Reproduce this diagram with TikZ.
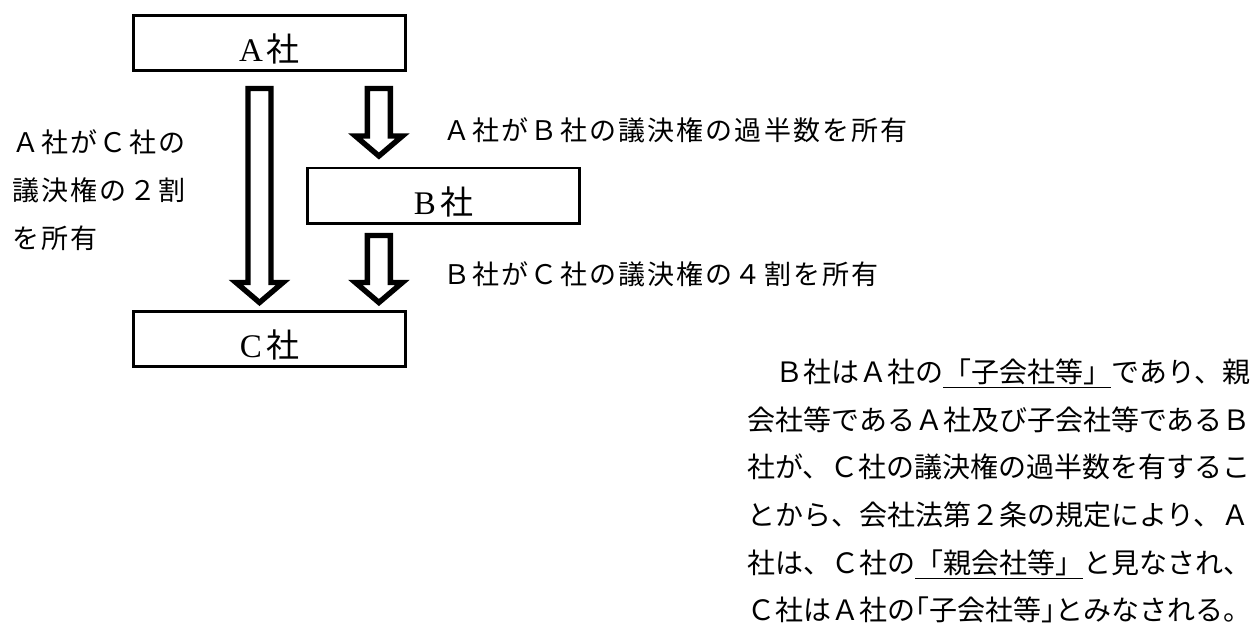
\documentclass[tikz,border=0pt]{standalone}
\usepackage{fontspec}
\usetikzlibrary{calc}
\newfontfamily\jp{Noto Sans CJK JP}
\newfontfamily\jpwide[LetterSpace=8]{Noto Sans CJK JP}
\newfontfamily\boxlatin{Liberation Serif}
\newcommand{\boxname}[1]{\raisebox{-3pt}[\height][\depth]{\fontsize{16.5}{18}\selectfont\boxlatin #1\hspace{2pt}\jp 社}}
\newcommand{\blockarrow}[2]{%
  \draw[hollowarrow] let \p1=(#1), \p2=(#2) in
    (\x1-5.75pt,\y1) -- (\x1-5.75pt,\y2+10pt) -- (\x1-11.75pt,\y2+10pt) -- (\x1,\y2)
    -- (\x1+11.75pt,\y2+10pt) -- (\x1+5.75pt,\y2+10pt) -- (\x1+5.75pt,\y1) -- cycle;}

\begin{document}
\begin{tikzpicture}[x=0.5pt, y=-0.5pt,
    company/.style={draw, line width=1.4pt, minimum width=136pt, minimum height=27.6pt, inner sep=0pt},
    hollowarrow/.style={draw, line width=2.7pt, line join=miter, fill=white},
    note/.style={inner sep=0pt, anchor=west, align=left, font=\jpwide\fontsize{13.5}{24}\selectfont},
    body/.style={inner sep=0pt, anchor=west, align=left, font=\jp\fontsize{14}{23.8}\selectfont}]

    \useasboundingbox (0,0) rectangle (1255,623);

    \node[company] (A) at (269.5,43) {\boxname{A}};
    \node[company] (B) at (443.5,195.5) {\boxname{B}};
    \node[company] (C) at (269.5,339) {\boxname{C}};

    \coordinate (ab top) at ($(A.south east)+(-28,16.5)$);
    \coordinate (ab tip) at ($(ab top |- B.north)+(0,-10.5)$);
    \coordinate (ac top) at ($(A.south)+(-10,16.5)$);
    \coordinate (ac tip) at ($(ac top |- C.north)+(0,-7.5)$);
    \coordinate (bc top) at ($(ab top |- B.south)+(0,11)$);
    \coordinate (bc tip) at ($(bc top |- C.north)+(0,-7.5)$);

    \blockarrow{ab top}{ab tip}
    \blockarrow{ac top}{ac tip}
    \blockarrow{bc top}{bc tip}

    \node[note] (ab note) at (443,130) {Ａ社がＢ社の議決権の過半数を所有};
    \node[note] (bc note) at (443,274) {Ｂ社がＣ社の議決権の４割を所有};
    \node[note] (ac note) at (12,190) {Ａ社がＣ社の\\議決権の２割\\を所有};

    \node[body] (summary) at (747,491) {%
        　Ｂ社はＡ社の\underline{「子会社等」}であり、親\\
        会社等であるＡ社及び子会社等であるＢ\\
        社が、Ｃ社の議決権の過半数を有するこ\\
        とから、会社法第２条の規定により、Ａ\\
        社は、Ｃ社の\underline{「親会社等」}と見なされ、\\
        Ｃ社はＡ社の\kern-.5em「子会社等」\kern-.5em とみなされる。};
\end{tikzpicture}
\end{document}
